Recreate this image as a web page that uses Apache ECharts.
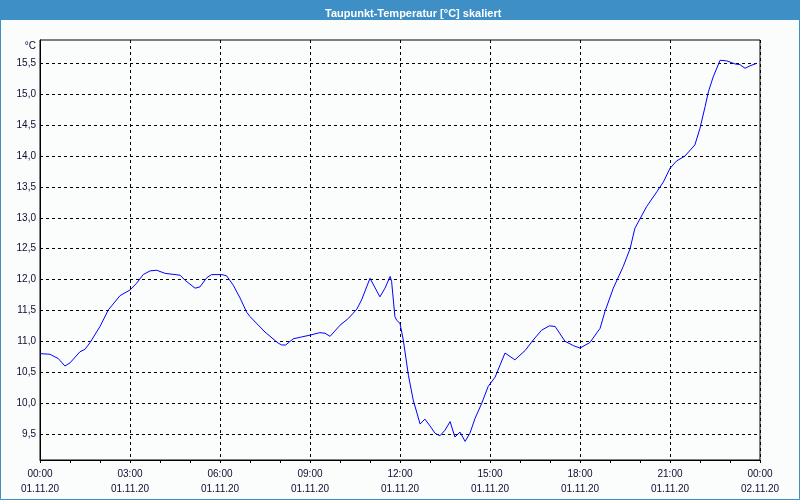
<!DOCTYPE html>
<html>
<head>
<meta charset="utf-8">
<script src="https://cdn.jsdelivr.net/npm/echarts@6/dist/echarts.min.js"></script>
<style>
html,body{margin:0;padding:0;background:#fbfdfc;}
#chart{width:800px;height:500px;}
</style>
</head>
<body>
<div id="chart"></div>
<script>
var chartTitle = 'Taupunkt-Temperatur [°C] skaliert';
var unitLabel = '°C';

// time of day in hours (01.11.20 00:00 = 0)
var hours = [0.00,0.33,0.61,0.83,1.00,1.33,1.50,1.67,2.00,2.28,2.67,3.00,3.22,3.44,3.67,3.89,4.17,4.67,4.83,5.17,5.33,5.56,5.72,6.06,6.22,6.44,6.67,6.89,7.00,7.50,7.94,8.06,8.19,8.44,8.72,9.00,9.33,9.50,9.67,10.00,10.28,10.56,10.72,11.00,11.33,11.50,11.67,11.72,11.83,11.89,12.00,12.11,12.28,12.44,12.67,12.83,13.00,13.17,13.33,13.50,13.67,13.83,14.00,14.17,14.33,14.50,14.72,14.94,15.17,15.50,15.83,16.17,16.44,16.72,16.98,17.17,17.50,17.78,18.00,18.33,18.67,18.83,19.11,19.44,19.67,19.83,20.22,20.56,20.78,21.00,21.22,21.50,21.83,22.00,22.17,22.28,22.44,22.67,22.89,23.17,23.33,23.50,23.67,23.89];

var dewpoint = [10.80,10.79,10.72,10.60,10.65,10.83,10.87,10.98,11.24,11.51,11.74,11.83,11.94,12.08,12.14,12.15,12.10,12.07,11.99,11.86,11.88,12.03,12.08,12.08,12.06,11.91,11.70,11.47,11.40,11.15,10.97,10.94,10.94,11.04,11.07,11.10,11.14,11.13,11.08,11.26,11.37,11.52,11.67,12.02,11.72,11.86,12.05,11.97,11.40,11.34,11.29,11.02,10.45,10.05,9.66,9.74,9.63,9.51,9.47,9.56,9.70,9.45,9.53,9.38,9.51,9.75,9.99,10.27,10.42,10.81,10.70,10.85,11.02,11.18,11.25,11.24,11.00,10.93,10.89,10.98,11.21,11.48,11.86,12.21,12.50,12.83,13.18,13.42,13.58,13.80,13.92,14.00,14.18,14.45,14.80,15.04,15.28,15.55,15.54,15.49,15.48,15.42,15.46,15.50];

var yTickValues = [9.5,10.0,10.5,11.0,11.5,12.0,12.5,13.0,13.5,14.0,14.5,15.0,15.5];
var xLabelTimes = ['00:00','03:00','06:00','09:00','12:00','15:00','18:00','21:00','00:00'];
var xLabelDates = ['01.11.20','01.11.20','01.11.20','01.11.20','01.11.20','01.11.20','01.11.20','01.11.20','02.11.20'];

var seriesData = hours.map(function(h, i){ return [h, dewpoint[i]]; });

var chart = echarts.init(document.getElementById('chart'), null, {renderer:'canvas'});
var labelFont = 'Liberation Sans';
var option = {
  backgroundColor: '#fbfdfc',
  animation: false,
  title: {
    text: chartTitle,
    left: 320,
    top: 3,
    textStyle: {color:'#ffffff', fontSize: 11, fontWeight:'bold', fontFamily: labelFont}
  },
  graphic: [
    {type:'rect', z:-10, shape:{x:0,y:0,width:800,height:20}, style:{fill:'#3d8fc6'}},
    {type:'rect', z:-10, shape:{x:0.5,y:0.5,width:799,height:499}, style:{fill:null, stroke:'#3d8fc6', lineWidth:1}}
  ],
  grid: {
    left: 40, right: 40, top: 40, bottom: 40,
    containLabel: false,
    outerBoundsMode: 'none',
    show: true,
    borderColor: '#000000',
    borderWidth: 1,
    backgroundColor: 'transparent'
  },
  xAxis: [{
    type: 'value',
    min: 0, max: 24, interval: 3,
    position: 'bottom',
    axisLine: {show:true, lineStyle:{color:'#000000', width:1}},
    axisTick: {show:false},
    splitLine: {show:true, lineStyle:{color:'#000000', width:1, type:[3,3]}},
    axisLabel: {
      show: true,
      margin: 7,
      color: '#0c0c30',
      fontSize: 10,
      fontFamily: labelFont,
      lineHeight: 15,
      formatter: function(v){
        var i = Math.round(v/3);
        return xLabelTimes[i] + '\n' + xLabelDates[i];
      }
    }
  },{
    type: 'value',
    min: 0, max: 24, interval: 1,
    position: 'bottom',
    axisLine: {show:false},
    axisTick: {show:true, inside:false, length:3, lineStyle:{color:'#000000', width:1}},
    splitLine: {show:false},
    axisLabel: {show:false}
  }],
  yAxis: {
    type: 'value',
    min: 9.078, max: 15.878,
    name: unitLabel,
    nameLocation: 'end',
    nameGap: 0,
    nameTextStyle: {align:'right', verticalAlign:'top', padding:[1,4,0,0], color:'#0c0c30', fontSize:10, fontFamily: labelFont},
    axisLine: {show:true, lineStyle:{color:'#000000', width:1}},
    axisTick: {show:false, customValues: yTickValues},
    splitLine: {show:true, lineStyle:{color:'#000000', width:1, type:[3,3]}},
    axisLabel: {
      show: true,
      customValues: yTickValues,
      margin: 4,
      color: '#0c0c30',
      fontSize: 10,
      fontFamily: labelFont,
      formatter: function(v){ return v.toFixed(1).replace('.', ','); }
    }
  },
  series: [{
    type: 'line',
    xAxisIndex: 0,
    data: seriesData,
    showSymbol: false,
    symbol: 'none',
    lineStyle: {color:'#0000ff', width:1},
    itemStyle: {color:'#0000ff'}
  }]
};
chart.setOption(option);
</script>
</body>
</html>
